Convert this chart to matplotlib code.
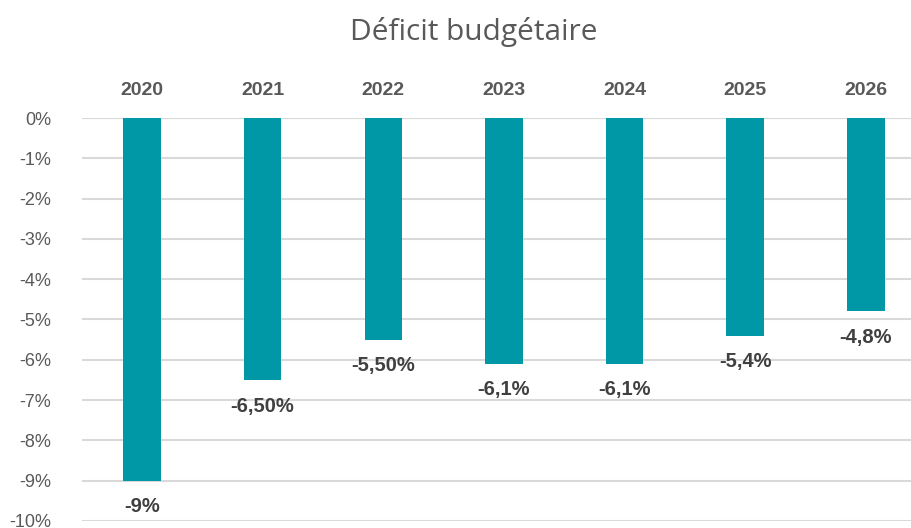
import matplotlib.pyplot as plt

years = ['2020', '2021', '2022', '2023', '2024', '2025', '2026']
deficit = [-9.0, -6.5, -5.5, -6.1, -6.1, -5.4, -4.8]
labels = ['-9%', '-6,50%', '-5,50%', '-6,1%', '-6,1%', '-5,4%', '-4,8%']
yticks = [0, -1, -2, -3, -4, -5, -6, -7, -8, -9, -10]
ytick_labels = ['0%', '-1%', '-2%', '-3%', '-4%', '-5%', '-6%', '-7%', '-8%', '-9%', '-10%']

plt.rcParams['font.family'] = ['Liberation Sans', 'DejaVu Sans']

fig = plt.figure(figsize=(9.12, 5.28), dpi=100)
ax = fig.add_axes([0.0895, 0.0133, 0.926, 0.7632])

x = range(len(years))
ax.bar(x, deficit, width=0.31, color='#0097A7', zorder=3)
for i, v in enumerate(deficit):
    ax.annotate(labels[i], (i, v), xytext=(0, -12), textcoords='offset points',
                ha='center', va='top', fontsize=14.5, fontweight='bold', color='#404040')

ax.set_xlim(-0.5, len(years) - 0.5)
ax.set_ylim(-10, 0)
ax.set_yticks(yticks)
ax.set_yticklabels(ytick_labels, fontsize=13, color='#595959')
ax.yaxis.grid(True, color='#d9d9d9', linewidth=1.5, zorder=0)
ax.tick_params(axis='y', length=0, pad=22)
ax.xaxis.tick_top()
ax.set_xticks(list(x))
ax.set_xticklabels(years, fontsize=14, fontweight='bold', color='#595959')
ax.tick_params(axis='x', length=0, pad=14)
for s in ax.spines.values():
    s.set_visible(False)
ax.axhline(0, color='#d9d9d9', linewidth=1.5, zorder=1)

fig.text(0.52, 0.94, 'Déficit budgétaire', ha='center', va='center',
         fontsize=21.5, color='#595959', family=['Open Sans', 'DejaVu Sans'])

fig.savefig('out.png')
